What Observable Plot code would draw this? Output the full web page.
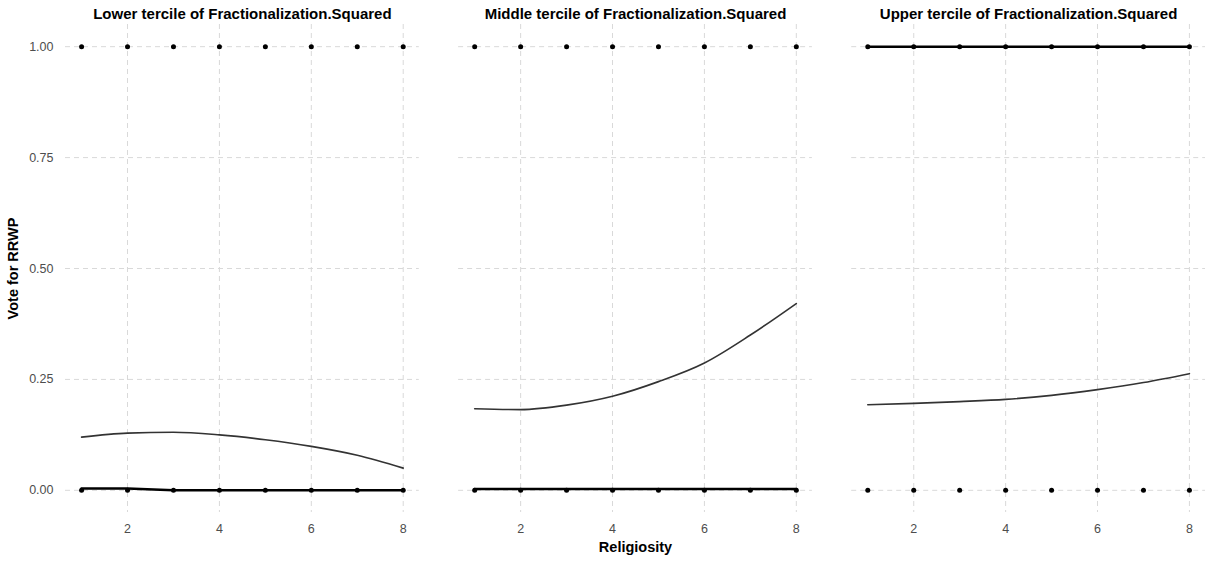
<!DOCTYPE html>
<html>
<head>
<meta charset="utf-8">
<script src="https://cdn.jsdelivr.net/npm/d3@7"></script>
<script src="https://cdn.jsdelivr.net/npm/@observablehq/plot@0.6"></script>
<style>
  html, body { margin: 0; padding: 0; background: #fff; }
  #chart { width: 1205px; height: 563px; }
</style>
</head>
<body>
<div id="chart"></div>
<script>
// ---- data ----
const facetTitles = [
  "Lower tercile of Fractionalization.Squared",
  "Middle tercile of Fractionalization.Squared",
  "Upper tercile of Fractionalization.Squared"
];
const religiosity = [1, 2, 3, 4, 5, 6, 7, 8];
// fitted probability curves
const fitLower  = [0.120, 0.129, 0.131, 0.125, 0.114, 0.099, 0.079, 0.050];
const fitMiddle = [0.184, 0.182, 0.192, 0.212, 0.245, 0.287, 0.350, 0.421];
const fitUpper  = [0.193, 0.196, 0.200, 0.205, 0.214, 0.227, 0.243, 0.263];
// second (flat) fitted curves
const flatLower  = [0.004, 0.004, 0.000, 0.000, 0.000, 0.000, 0.000, 0.000];
const flatMiddle = [0.003, 0.003, 0.003, 0.003, 0.003, 0.003, 0.003, 0.003];
const flatUpper  = [1.000, 1.000, 1.000, 1.000, 1.000, 1.000, 1.000, 1.000];
// observed votes
const observedValues = [0, 1];
const yTicks = [0, 0.25, 0.5, 0.75, 1];
const xTicks = [2, 4, 6, 8];

// ---- tables ----
const fits = [fitLower, fitMiddle, fitUpper];
const flats = [flatLower, flatMiddle, flatUpper];
const curveRows = [], flatRows = [], pointRows = [];
facetTitles.forEach((f, i) => {
  religiosity.forEach((x, j) => {
    curveRows.push({facet: f, x, y: fits[i][j]});
    flatRows.push({facet: f, x, y: flats[i][j]});
    observedValues.forEach(v => pointRows.push({facet: f, x, y: v}));
  });
});

const font = "Arial, 'Liberation Sans', sans-serif";
const chart = Plot.plot({
  width: 1205,
  height: 563,
  marginLeft: 65,
  marginRight: 0,
  marginTop: 24,
  marginBottom: 51,
  style: {fontFamily: font, fontSize: "12px", color: "#4d4d4d", background: "#fff"},
  fx: {domain: facetTitles, paddingInner: 0.1, paddingOuter: 0, round: false, label: null},
  x: {domain: [0.65, 8.35], label: null},
  y: {domain: [-0.05, 1.05], label: null},
  marks: [
    Plot.gridX(xTicks, {stroke: "#d9d9d9", strokeOpacity: 1, strokeWidth: 1, strokeDasharray: "5,4"}),
    Plot.gridY(yTicks, {stroke: "#d9d9d9", strokeOpacity: 1, strokeWidth: 1, strokeDasharray: "5,4"}),
    Plot.axisX({ticks: xTicks, tickSize: 0, tickPadding: 12, label: null, fill: "#4d4d4d", fontSize: 12.5}),
    Plot.axisY({ticks: yTicks, tickSize: 0, tickPadding: 12, tickFormat: d3.format(".2f"), label: null, fill: "#4d4d4d", fontSize: 12.5}),
    Plot.axisFx({anchor: "top", tickSize: 0, tickPadding: 6, label: null, fontWeight: "bold", fontSize: 15, fill: "#000"}),
    Plot.line(curveRows, {fx: "facet", x: "x", y: "y", stroke: "#333", strokeWidth: 1.6, curve: "monotone-x"}),
    Plot.line(flatRows, {fx: "facet", x: "x", y: "y", stroke: "#000", strokeWidth: 2.6, curve: "linear"}),
    Plot.dot(pointRows, {fx: "facet", x: "x", y: "y", r: 2.5, fill: "#000", stroke: "none"}),
    Plot.text(["Religiosity"], {fx: () => facetTitles[1], frameAnchor: "bottom", dy: 39, text: d => d, textAnchor: "middle", fontWeight: "bold", fontSize: 14.5, fill: "#000"}),
    Plot.text(["Vote for RRWP"], {fx: () => facetTitles[0], frameAnchor: "left", dx: -52, rotate: -90, text: d => d, textAnchor: "middle", fontWeight: "bold", fontSize: 14.5, fill: "#000"})
  ]
});
document.getElementById("chart").append(chart);
</script>
</body>
</html>
